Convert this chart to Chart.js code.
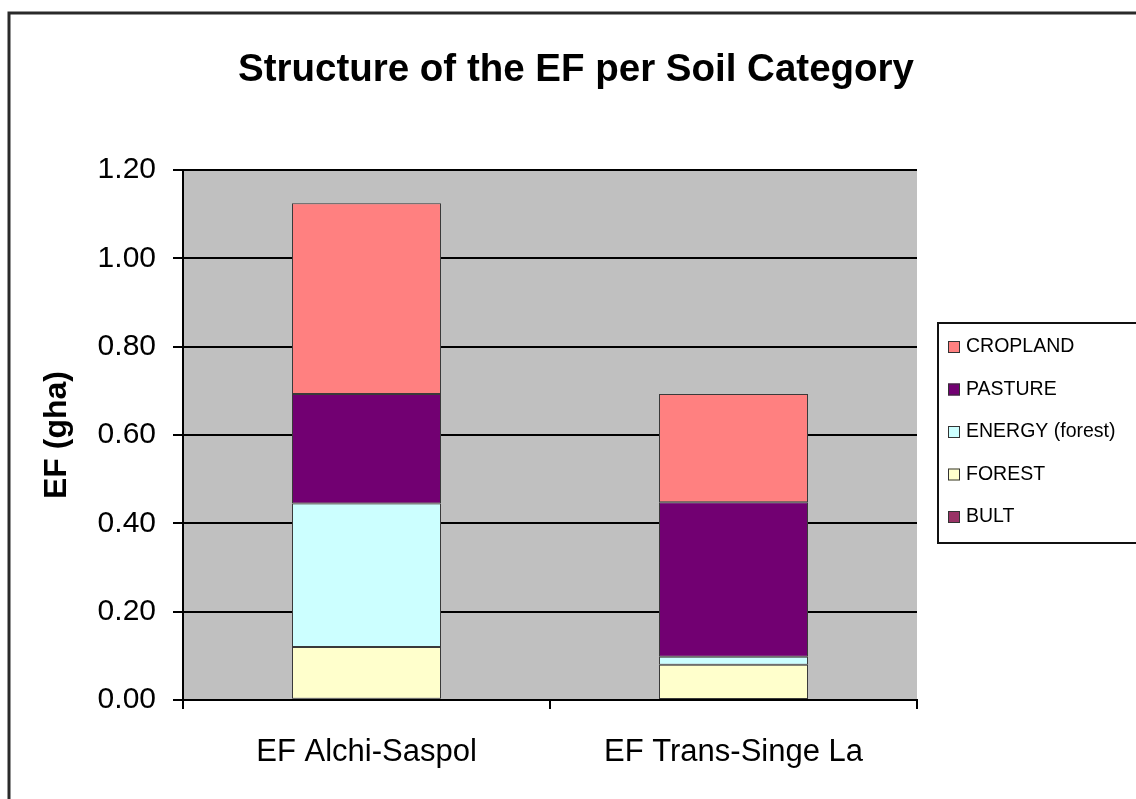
<!DOCTYPE html>
<html>
<head>
<meta charset="utf-8">
<script src="https://cdn.jsdelivr.net/npm/chart.js@4"></script>
<style>
html,body{margin:0;padding:0;background:#fff;}
canvas{display:block;}
</style>
</head>
<body>
<canvas id="c" width="1136" height="799"></canvas>
<script>
const categories = ["EF Alchi-Saspol", "EF Trans-Singe La"];
const built    = [0.003, 0.002];
const forest   = [0.117, 0.078];
const energy   = [0.325, 0.018];
const pasture  = [0.248, 0.350];
const cropland = [0.432, 0.245];
const seriesNames = ["BULT", "FOREST", "ENERGY (forest)", "PASTURE", "CROPLAND"];
const seriesColors = ["#993366", "#FFFFCC", "#CCFFFF", "#720072", "#FF8080"];
const yTicks = [0, 0.2, 0.4, 0.6, 0.8, 1.0, 1.2];
const chartTitle = "Structure of the EF per Soil Category";

const FONT = "'Liberation Sans', Arial, sans-serif";

const plotBg = {
  id: 'plotBg',
  beforeDraw(chart) {
    const {ctx, chartArea: a} = chart;
    ctx.save();
    ctx.fillStyle = '#ffffff';
    ctx.fillRect(0, 0, chart.width, chart.height);
    ctx.fillStyle = '#c0c0c0';
    ctx.fillRect(a.left, a.top, a.right - a.left, a.bottom - a.top);
    ctx.strokeStyle = '#2a2a2a';
    ctx.lineWidth = 3;
    ctx.beginPath();
    ctx.moveTo(9, chart.height + 5);
    ctx.lineTo(9, 13);
    ctx.lineTo(chart.width + 5, 13);
    ctx.stroke();
    // title
    ctx.fillStyle = '#000';
    ctx.font = "bold 38.5px " + FONT;
    ctx.textAlign = 'center';
    ctx.textBaseline = 'middle';
    ctx.fillText(chartTitle, 576, 70);
    ctx.restore();
  }
};

const customLegend = {
  id: 'customLegend',
  afterDraw(chart) {
    const ctx = chart.ctx;
    const x0 = 938, y0 = 323, w = 200, h = 220;
    ctx.save();
    ctx.fillStyle = '#ffffff';
    ctx.fillRect(x0, y0, w, h);
    ctx.strokeStyle = '#111';
    ctx.lineWidth = 2;
    ctx.strokeRect(x0, y0, w, h);
    const ds = chart.data.datasets.slice().reverse();
    ctx.font = "19.5px " + FONT;
    ctx.textBaseline = 'middle';
    ds.forEach((d, i) => {
      const cy = 347 + i * 42.5;
      ctx.fillStyle = d.backgroundColor;
      ctx.fillRect(948, cy - 6, 12, 12);
      ctx.strokeStyle = '#333';
      ctx.lineWidth = 1;
      ctx.strokeRect(948.5, cy - 5.5, 11, 11);
      ctx.fillStyle = '#000';
      ctx.fillText(d.label, 966, cy);
    });
    ctx.restore();
  }
};

const values = [built, forest, energy, pasture, cropland];
const datasets = values.map((v, i) => ({
  label: seriesNames[i],
  data: v,
  backgroundColor: seriesColors[i],
  borderColor: '#3a3a3a',
  borderWidth: 1,
  borderSkipped: false,
  categoryPercentage: 1.0,
  barPercentage: 0.406
}));

new Chart(document.getElementById('c'), {
  type: 'bar',
  data: { labels: categories, datasets },
  plugins: [plotBg, customLegend],
  options: {
    responsive: false,
    animation: false,
    layout: { padding: { left: 0, right: 219, top: 170, bottom: 0 } },
    plugins: {
      legend: { display: false },
      tooltip: { enabled: false },
      title: { display: false }
    },
    scales: {
      x: {
        stacked: true,
        offset: true,
        grid: { display: true, drawOnChartArea: false, offset: true, color: '#000', lineWidth: 2, tickLength: 9 },
        border: { display: true, color: '#000', width: 2 },
        ticks: { color: '#000', font: { family: FONT, size: 31 }, padding: 25 },
        afterFit(s) { s.height = 99; }
      },
      y: {
        stacked: true,
        min: 0,
        max: 1.2,
        afterBuildTicks(s) { s.ticks = yTicks.map(v => ({ value: v })); },
        grid: { color: '#000', lineWidth: 2, tickLength: 10 },
        border: { display: true, color: '#000', width: 2 },
        ticks: {
          color: '#000',
          font: { family: FONT, size: 30 },
          padding: 17,
          callback: v => Number(v).toFixed(2)
        },
        title: {
          display: true,
          text: 'EF (gha)',
          color: '#000',
          font: { family: FONT, size: 32, weight: 'bold' },
          padding: { top: 38, bottom: 0 }
        },
        afterFit(s) { s.width = 183; }
      }
    }
  }
});
</script>
</body>
</html>
